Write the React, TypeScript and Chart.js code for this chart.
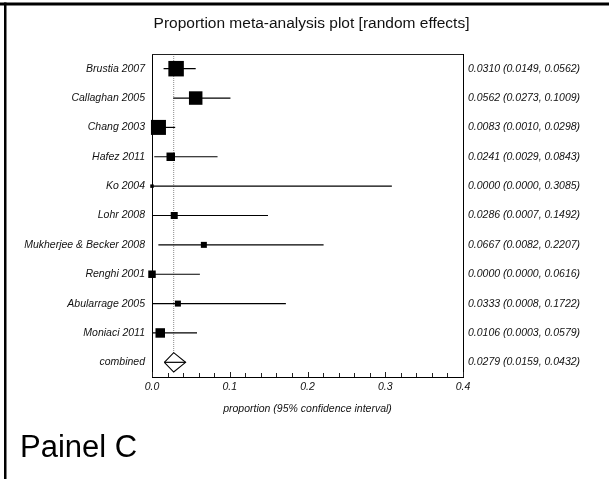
import React, { useEffect, useRef } from 'react';
import { Chart, registerables } from 'chart.js';

Chart.register(...registerables);

// ---- data ----
const studyNames = [
  'Brustia 2007',
  'Callaghan 2005',
  'Chang 2003',
  'Hafez 2011',
  'Ko 2004',
  'Lohr 2008',
  'Mukherjee & Becker 2008',
  'Renghi 2001',
  'Abularrage 2005',
  'Moniaci 2011',
  'combined',
];
const proportions = [0.031, 0.0562, 0.0083, 0.0241, 0.0, 0.0286, 0.0667, 0.0, 0.0333, 0.0106, 0.0279];
const lowerCI = [0.0149, 0.0273, 0.001, 0.0029, 0.0, 0.0007, 0.0082, 0.0, 0.0008, 0.0003, 0.0159];
const upperCI = [0.0562, 0.1009, 0.0298, 0.0843, 0.3085, 0.1492, 0.2207, 0.0616, 0.1722, 0.0579, 0.0432];
// relative study weights (%), square area proportional to weight
const studyWeights = [24.0, 18.2, 22.5, 7.2, 1.2, 4.9, 3.6, 5.6, 3.6, 9.0];
const xMajorTicks = [0, 0.1, 0.2, 0.3, 0.4];
const xMinorPerMajor = 5;

const titleText = 'Proportion meta-analysis plot [random effects]';
const xAxisTitle = 'proportion (95% confidence interval)';
const panelLabel = 'Painel C';

// ---- style ----
const FONT = '"Liberation Sans", Arial, Helvetica, sans-serif';
const TEXT = '#111';
const SQUARE_K = 2.236; // radius per sqrt(weight)
const DIAMOND_HALF = 0.33; // in row units

const fmt = (v: number) => v.toFixed(4);
const rightLabels = studyNames.map(
  (_, i) => `${fmt(proportions[i])} (${fmt(lowerCI[i])}, ${fmt(upperCI[i])})`
);
const nStudies = studyWeights.length;
const combinedIdx = studyNames.length - 1;

const xTickValues: number[] = [];
xMajorTicks.forEach((m, k) => {
  xTickValues.push(m);
  if (k < xMajorTicks.length - 1) {
    const step = (xMajorTicks[k + 1] - m) / xMinorPerMajor;
    for (let j = 1; j < xMinorPerMajor; j++) xTickValues.push(m + j * step);
  }
});
const isMajor = (v: number) => xMajorTicks.some((m) => Math.abs(m - v) < 1e-9);

const decorPlugin = {
  id: 'decor',
  afterDraw(chart: any) {
    const { ctx, chartArea: ca } = chart;
    const xs = chart.scales.x;
    ctx.save();
    ctx.strokeStyle = '#222';
    ctx.lineWidth = 1;
    // top frame line
    ctx.beginPath();
    const ty = Math.round(ca.top) + 0.5;
    ctx.moveTo(ca.left, ty);
    ctx.lineTo(ca.right, ty);
    ctx.stroke();
    // inward tick marks
    ctx.beginPath();
    xs.ticks.forEach((t: any) => {
      const px = Math.round(xs.getPixelForValue(t.value)) + 0.5;
      const len = isMajor(t.value) ? 5 : 4;
      ctx.moveTo(px, ca.bottom);
      ctx.lineTo(px, ca.bottom - len);
    });
    ctx.stroke();
    // panel label
    ctx.fillStyle = '#000';
    ctx.font = `31px ${FONT}`;
    ctx.textBaseline = 'alphabetic';
    ctx.textAlign = 'left';
    ctx.fillText(panelLabel, 20, 457);
    // outer border (top + left)
    ctx.fillRect(0, 2.5, chart.width, 3);
    ctx.fillRect(4, 2.5, 2.5, chart.height);
    ctx.restore();
  },
};

export default function App() {
  const ref = useRef<HTMLCanvasElement | null>(null);

  useEffect(() => {
    if (!ref.current) return;

    const ciLines = studyNames.map((_, i) => ({
      label: 'ci' + i,
      data: [
        { x: lowerCI[i], y: i },
        { x: upperCI[i], y: i },
      ],
      showLine: true,
      borderColor: '#000',
      borderWidth: 1.2,
      pointRadius: 0,
      clip: false as any,
      order: 1,
    }));

    const datasets: any[] = [
      {
        label: 'studies',
        data: proportions.slice(0, nStudies).map((p, i) => ({ x: p, y: i })),
        pointStyle: 'rect',
        pointRadius: studyWeights.map((w) => Math.sqrt(w) * SQUARE_K),
        pointBackgroundColor: '#000',
        pointBorderWidth: 0,
        showLine: false,
        clip: false,
        order: 0,
      },
      ...ciLines,
      {
        label: 'combined',
        data: [
          { x: lowerCI[combinedIdx], y: combinedIdx },
          { x: proportions[combinedIdx], y: combinedIdx - DIAMOND_HALF },
          { x: upperCI[combinedIdx], y: combinedIdx },
          { x: proportions[combinedIdx], y: combinedIdx + DIAMOND_HALF },
          { x: lowerCI[combinedIdx], y: combinedIdx },
        ],
        showLine: true,
        borderColor: '#000',
        borderWidth: 1.1,
        pointRadius: 0,
        fill: false,
        order: 2,
      },
      {
        label: 'pooled',
        data: [
          { x: proportions[combinedIdx], y: -0.5 },
          { x: proportions[combinedIdx], y: combinedIdx - DIAMOND_HALF },
        ],
        showLine: true,
        borderColor: '#8a8a8a',
        borderWidth: 1,
        borderDash: [1, 1],
        pointRadius: 0,
        order: 3,
      },
    ];

    const yCommon = (labels: string[], position: string, padding: number, width: number) => ({
      type: 'linear',
      position,
      min: -0.5,
      max: studyNames.length - 0.5,
      reverse: true,
      afterBuildTicks: (s: any) => {
        s.ticks = studyNames.map((_, i) => ({ value: i }));
      },
      ticks: {
        autoSkip: false,
        padding,
        color: TEXT,
        font: { family: FONT, size: 10.5, style: 'italic' },
        callback: (v: any) => labels[v] ?? '',
      },
      grid: { drawOnChartArea: false, drawTicks: false },
      border: { display: true, color: '#000', width: 1 },
      afterFit: (s: any) => {
        s.width = width;
      },
    });

    const chart = new Chart(ref.current, {
      type: 'scatter',
      data: { datasets },
      plugins: [decorPlugin],
      options: {
        responsive: false,
        animation: false,
        events: [],
        layout: { padding: { left: 14, right: 0, top: 0, bottom: 0 } },
        plugins: {
          legend: { display: false },
          tooltip: { enabled: false },
          title: {
            display: true,
            text: titleText,
            color: TEXT,
            font: { family: FONT, size: 15.5, weight: 'normal' },
            padding: { top: 14, bottom: 21.4 },
          },
        },
        scales: {
          x: {
            type: 'linear',
            position: 'bottom',
            min: xMajorTicks[0],
            max: xMajorTicks[xMajorTicks.length - 1],
            afterBuildTicks: (s: any) => {
              s.ticks = xTickValues.map((v) => ({ value: v }));
            },
            ticks: {
              autoSkip: false,
              maxRotation: 0,
              padding: 4,
              color: TEXT,
              font: { family: FONT, size: 10.5, style: 'italic' },
              callback: (v: any) => (isMajor(v) ? Number(v).toFixed(1) : ''),
            },
            grid: { drawOnChartArea: false, drawTicks: false },
            border: { display: true, color: '#000', width: 1 },
            title: {
              display: true,
              text: xAxisTitle,
              color: TEXT,
              font: { family: FONT, size: 10.5, style: 'italic' },
              padding: { top: 0, bottom: 64 },
            },
            afterFit: (s: any) => {
              s.height = 102;
            },
          },
          y: yCommon(studyNames, 'left', 7, 138),
          y2: yCommon(rightLabels, 'right', 5, 146),
        } as any,
      },
    });
    return () => chart.destroy();
  }, []);

  return (
    <div style={{ position: 'fixed', left: 0, top: 0, width: 609, height: 479, background: '#fff' }}>
      <canvas ref={ref} width={609} height={479} style={{ display: 'block' }} />
    </div>
  );
}
